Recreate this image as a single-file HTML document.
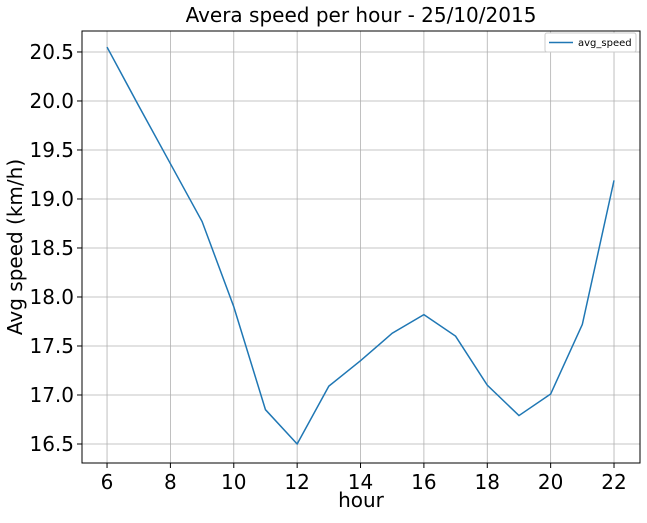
<!DOCTYPE html>
<html><head><meta charset="utf-8"><style>
body{margin:0;background:#fff;font-family:"DejaVu Sans","Liberation Sans",sans-serif;}
</style></head><body>
<svg width="647" height="519" xmlns="http://www.w3.org/2000/svg" font-family="DejaVu Sans, Liberation Sans, sans-serif">
<g id="root"></g>
</svg>
<script>
const hours=[6,7,8,9,10,11,12,13,14,15,16,17,18,19,20,21,22];
const speeds=[20.55,19.95,19.36,18.77,17.9,16.85,16.5,17.09,17.35,17.63,17.82,17.6,17.1,16.79,17.01,17.72,19.19];
const xTicks=[6,8,10,12,14,16,18,20,22];
const yTicks=[16.5,17.0,17.5,18.0,18.5,19.0,19.5,20.0,20.5];
const L=82,R=640,T=31,B=463;
const xMin=5.21,xMax=22.82,yMin=16.306,yMax=20.714;
const sx=v=>L+(v-xMin)/(xMax-xMin)*(R-L);
const sy=v=>B-(v-yMin)/(yMax-yMin)*(B-T);
const NS="http://www.w3.org/2000/svg";
const root=document.getElementById('root');
function mk(t,a,txt){const e=document.createElementNS(NS,t);for(const k in a)e.setAttribute(k,a[k]);if(txt!==undefined)e.textContent=txt;root.appendChild(e);return e;}
xTicks.forEach(v=>{
 const g=mk('line',{x1:sx(v),x2:sx(v),y1:T,y2:B,stroke:'#b0b0b0','stroke-width':0.8});
 
 
 mk('line',{x1:sx(v),x2:sx(v),y1:B,y2:B+5,stroke:'#000'});
 const t=mk('text',{x:sx(v),y:B+26,'text-anchor':'middle','font-size':20},String(v));
 
 
});
yTicks.forEach(v=>{
 const g=mk('line',{x1:L,x2:R,y1:sy(v),y2:sy(v),stroke:'#b0b0b0','stroke-width':0.8});
 
 
 mk('line',{x1:L-5,x2:L,y1:sy(v),y2:sy(v),stroke:'#000'});
 const t=mk('text',{x:L-8,y:sy(v)+7,'text-anchor':'end','font-size':20},v.toFixed(1));
 
 
});
const line=mk('polyline',{points:hours.map((h,i)=>sx(h)+','+sy(speeds[i])).join(' '),fill:'none',stroke:'#1f77b4','stroke-width':1.5});


const frame=mk('rect',{x:L,y:T,width:R-L,height:B-T,fill:'none',stroke:'#000','stroke-width':1});


const title=mk('text',{x:(L+R)/2,y:22,'text-anchor':'middle','font-size':20},'Avera speed per hour - 25/10/2015');


const xl=mk('text',{x:(L+R)/2,y:507,'text-anchor':'middle','font-size':20},'hour');


const yl=mk('text',{x:0,y:0,'text-anchor':'middle','font-size':20,transform:'translate(22,'+((T+B)/2)+') rotate(-90)'},'Avg speed (km/h)');


const lb=mk('rect',{x:545,y:33,width:91,height:19,fill:'#fff',stroke:'#ccc',rx:2});


mk('line',{x1:549,x2:573,y1:42.5,y2:42.5,stroke:'#1f77b4','stroke-width':1.5});
const lt=mk('text',{x:578,y:46,'font-size':10},'avg_speed');


</script>
</body></html>
